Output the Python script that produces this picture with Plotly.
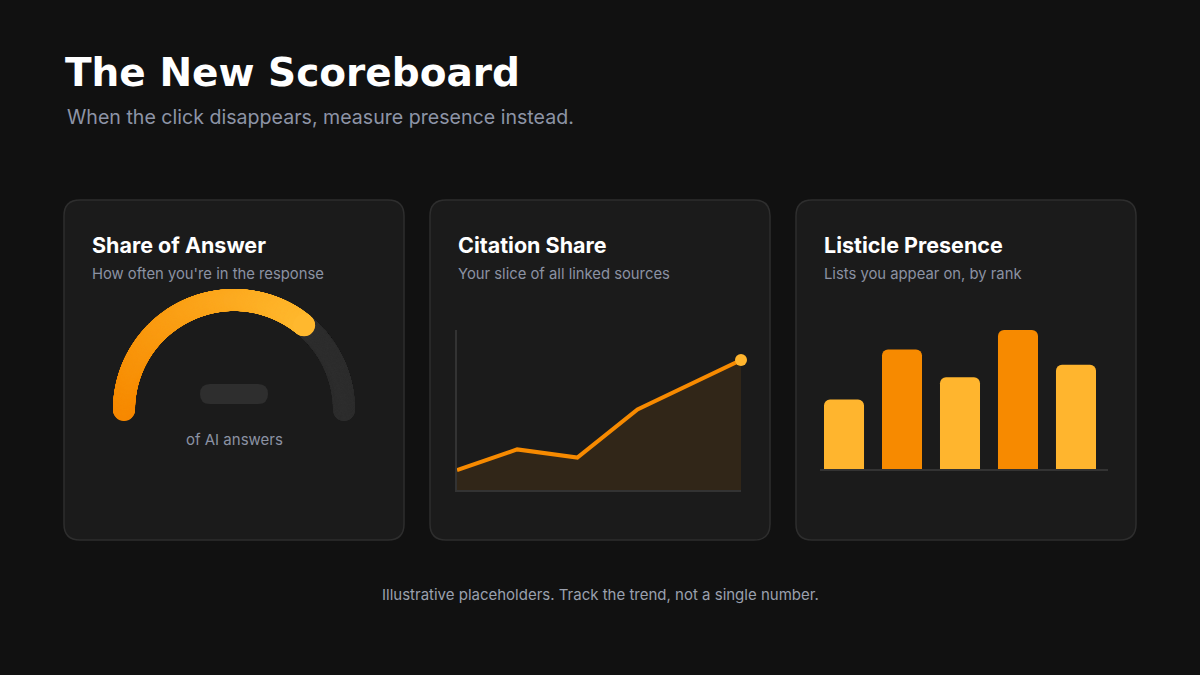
import numpy as np
import plotly.graph_objects as go

# ---------------- data ----------------
title_text = "The New Scoreboard"
subtitle_text = "When the click disappears, measure presence instead."
footer_text = "Illustrative placeholders. Track the trend, not a single number."

card_titles = ["Share of Answer", "Citation Share", "Listicle Presence"]
card_subtitles = ["How often you're in the response",
                  "Your slice of all linked sources",
                  "Lists you appear on, by rank"]

gauge_value = 72          # percent of AI answers
gauge_caption = "of AI answers"

citation_x = [0, 1, 2, 3, 4.72]
citation_y = [10, 20.3, 16.2, 40.3, 65]

listicle_rank = [0, 1, 2, 3, 4]
listicle_values = [50, 86, 66, 100, 75]

# ---------------- styling ----------------
W, H = 1200, 675
BG = "#111111"
CARD = "#1b1b1b"
CARD_LINE = "#2e2e2e"
ORANGE = "#f78a00"
AMBER = "#ffb52e"
TRACK = "#2e2e2e"
GRAY_TXT = "#8b92a3"


def px(x):
    return x / W


def py(y):
    return 1 - y / H


def rounded_rect(x0, y0, x1, y1, r):
    rx, ry = r / W, r / H
    X0, X1 = px(x0), px(x1)
    Y0, Y1 = py(y0), py(y1)  # Y0 top (larger), Y1 bottom
    return (f"M {X0+rx},{Y0} L {X1-rx},{Y0} Q {X1},{Y0} {X1},{Y0-ry} "
            f"L {X1},{Y1+ry} Q {X1},{Y1} {X1-rx},{Y1} "
            f"L {X0+rx},{Y1} Q {X0},{Y1} {X0},{Y1+ry} "
            f"L {X0},{Y0-ry} Q {X0},{Y0} {X0+rx},{Y0} Z")


fig = go.Figure()

# ---------------- gauge (axes x / y) ----------------
end_angle = np.pi * (1 - gauge_value / 100)
track_t = np.linspace(0, end_angle, 300)
fig.add_trace(go.Scatter(
    x=np.cos(track_t), y=np.sin(track_t), mode="markers",
    marker=dict(size=22, color=TRACK, line=dict(width=0)),
    hoverinfo="skip", xaxis="x", yaxis="y", cliponaxis=False))

arc_t = np.linspace(np.pi, end_angle, 600)
frac = np.linspace(0, 1, arc_t.size)
c0 = np.array([247, 137, 0])
c1 = np.array([255, 184, 46])
cols = [f"rgb({int(a)},{int(b)},{int(c)})" for a, b, c in (c0 + np.outer(frac, c1 - c0))]
fig.add_trace(go.Scatter(
    x=np.cos(arc_t), y=np.sin(arc_t), mode="markers",
    marker=dict(size=22, color=cols, line=dict(width=0)),
    hoverinfo="skip", xaxis="x", yaxis="y", cliponaxis=False))

# ---------------- citation line (axes x2 / y2) ----------------
fig.add_trace(go.Scatter(
    x=citation_x, y=citation_y, mode="lines",
    line=dict(color=ORANGE, width=4),
    fill="tozeroy", fillcolor="rgba(247,138,0,0.10)",
    hoverinfo="skip", xaxis="x2", yaxis="y2", cliponaxis=False))
fig.add_trace(go.Scatter(
    x=[citation_x[-1]], y=[citation_y[-1]], mode="markers",
    marker=dict(size=12, color=AMBER),
    hoverinfo="skip", xaxis="x2", yaxis="y2", cliponaxis=False))

# ---------------- listicle bars (axes x3 / y3) ----------------
bar_cols = [AMBER if i % 2 == 0 else ORANGE for i in range(len(listicle_values))]
fig.add_trace(go.Bar(
    x=listicle_rank, y=listicle_values, width=0.69,
    marker=dict(color=bar_cols, line=dict(width=0), cornerradius=6),
    hoverinfo="skip", xaxis="x3", yaxis="y3"))

# ---------------- cards & shapes ----------------
shapes = []
for cx in (64, 430, 796):
    shapes.append(dict(type="path", xref="paper", yref="paper",
                       path=rounded_rect(cx, 200, cx + 340, 540, 16),
                       fillcolor=CARD, line=dict(color=CARD_LINE, width=1.5),
                       layer="below"))
# placeholder pill in gauge centre
shapes.append(dict(type="path", xref="paper", yref="paper",
                   path=rounded_rect(200, 384, 268, 404, 10),
                   fillcolor=TRACK, line=dict(width=0), layer="below"))

# ---------------- text ----------------
ann = []
ann.append(dict(text=title_text, x=px(63), y=py(72), xref="paper", yref="paper",
                xanchor="left", yanchor="middle", showarrow=False,
                font=dict(family="DejaVu Sans", size=39, color="#ffffff", weight=700)))
ann.append(dict(text=subtitle_text, x=px(65), y=py(117), xref="paper", yref="paper",
                xanchor="left", yanchor="middle", showarrow=False,
                font=dict(family="Inter, Noto Sans", size=19.6, color="#8d94a6")))
for i, cx in enumerate((64, 430, 796)):
    ann.append(dict(text=card_titles[i], x=px(cx + 26), y=py(245), xref="paper", yref="paper",
                    xanchor="left", yanchor="middle", showarrow=False,
                    font=dict(family="Inter, Noto Sans", size=21.5, color="#ffffff", weight=700)))
    ann.append(dict(text=card_subtitles[i], x=px(cx + 26), y=py(274), xref="paper", yref="paper",
                    xanchor="left", yanchor="middle", showarrow=False,
                    font=dict(family="Inter, Noto Sans", size=14.8, color=GRAY_TXT)))
ann.append(dict(text=gauge_caption, x=px(234), y=py(439), xref="paper", yref="paper",
                xanchor="center", yanchor="middle", showarrow=False,
                font=dict(family="Inter, Noto Sans", size=15, color=GRAY_TXT)))
ann.append(dict(text=footer_text, x=0.5, y=py(594), xref="paper", yref="paper",
                xanchor="center", yanchor="middle", showarrow=False,
                font=dict(family="Inter, Noto Sans", size=15, color="#9aa0ae")))

hidden = dict(visible=False, fixedrange=True)
axline = dict(showgrid=False, zeroline=False, showticklabels=False, ticks="",
              showline=True, linecolor="#333333", linewidth=2, fixedrange=True)

fig.update_layout(
    width=W, height=H, margin=dict(l=0, r=0, t=0, b=0),
    paper_bgcolor=BG, plot_bgcolor="rgba(0,0,0,0)",
    showlegend=False, shapes=shapes, annotations=ann, barcornerradius=6,
    # gauge: unit circle, 110 px per unit, centre at (234, 410)
    xaxis=dict(domain=[px(102), px(366)], range=[-1.2, 1.2], anchor="y", **hidden),
    yaxis=dict(domain=[py(432), py(278)], range=[-0.2, 1.2], anchor="x", **hidden),
    xaxis2=dict(domain=[px(457), px(741)], range=[0, 4.72], anchor="y2", **axline),
    yaxis2=dict(domain=[py(490), py(330)], range=[0, 80], anchor="x2", **axline),
    xaxis3=dict(domain=[px(820), px(1108)], range=[-0.414, 4.552], anchor="y3", **axline),
    yaxis3=dict(domain=[py(469), py(330)], range=[0, 100], anchor="x3",
                visible=False, fixedrange=True),
)

fig.write_html("out.html", config=dict(displayModeBar=False, staticPlot=True),
               post_script="document.body.style.margin='0';document.body.style.overflow='hidden';")
